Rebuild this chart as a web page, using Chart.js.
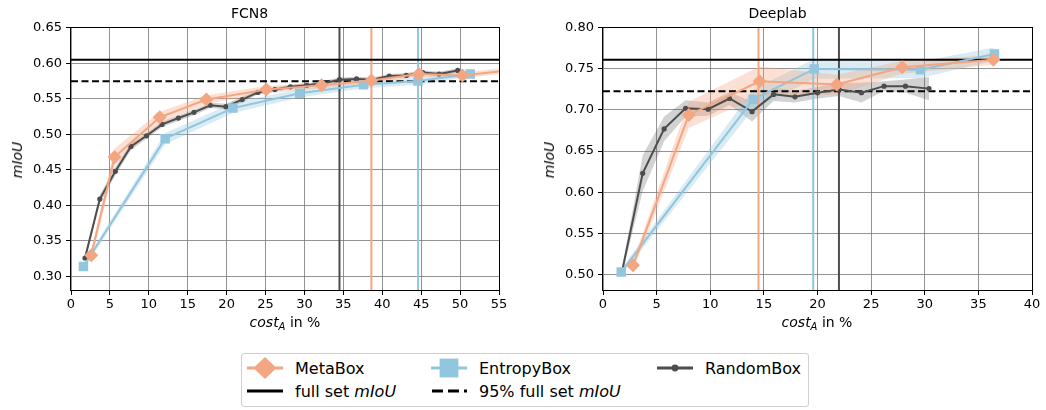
<!DOCTYPE html>
<html lang="en">
<head>
    <meta charset="UTF-8">
    <title>mIoU vs. annotation cost</title>
    <script src="https://cdn.jsdelivr.net/npm/chart.js"></script>
    <style>
        body {
            margin: 0;
            width: 1046px;
            height: 410px;
            position: relative;
            overflow: hidden;
            background: #fff;
            color: #000;
            font-family: "DejaVu Sans", sans-serif;
        }
        .panel { position: absolute; top: 0; height: 340px; }
        #panelFcn { left: 0; width: 520px; }
        #panelDl { left: 523px; width: 523px; }
        .ylabel {
            position: absolute;
            font-size: 14px;
            font-style: italic;
            white-space: nowrap;
            transform: translate(-50%, -50%) rotate(-90deg);
        }
        .xlabel {
            position: absolute;
            font-size: 14px;
            white-space: nowrap;
            transform: translate(-50%, -50%);
        }
        .xlabel sub { font-size: 10px; font-style: italic; vertical-align: -3px; }
        .legend {
            position: absolute;
            left: 241px;
            top: 353px;
            width: 566px;
            height: 52px;
            border: 1px solid #d0d0d0;
            border-radius: 3px;
        }
        .item {
            position: absolute;
            display: flex;
            align-items: center;
            height: 24px;
            font-size: 16px;
            white-space: nowrap;
        }
        .item svg { margin-right: 12px; }
    </style>
</head>
<body>
    <div class="panel" id="panelFcn"><canvas id="fcnChart"></canvas></div>
    <div class="panel" id="panelDl"><canvas id="dlChart"></canvas></div>

    <div class="ylabel" style="left:17px; top:160px;">mIoU</div>
    <div class="ylabel" style="left:549px; top:160px;">mIoU</div>
    <div class="xlabel" style="left:285px; top:323px;"><i>cost</i><sub>A</sub> in %</div>
    <div class="xlabel" style="left:817px; top:323px;"><i>cost</i><sub>A</sub> in %</div>

    <div class="legend">
        <div class="item" style="left:5px; top:2px;">
            <svg width="36" height="24"><line x1="0" y1="12" x2="36" y2="12" stroke="#f4a582" stroke-width="3"/><polygon points="18,1 29.5,12 18,23 6.5,12" fill="#f4a582"/></svg>MetaBox
        </div>
        <div class="item" style="left:5px; top:25px;">
            <svg width="36" height="24"><line x1="0" y1="12" x2="36" y2="12" stroke="#000" stroke-width="3"/></svg>full set&nbsp;<i>mIoU</i>
        </div>
        <div class="item" style="left:189px; top:2px;">
            <svg width="36" height="24"><line x1="0" y1="12" x2="36" y2="12" stroke="#92c5de" stroke-width="3"/><rect x="8.6" y="2.6" width="18.8" height="18.8" fill="#92c5de"/></svg>EntropyBox
        </div>
        <div class="item" style="left:189px; top:25px;">
            <svg width="36" height="24"><line x1="1" y1="12" x2="36" y2="12" stroke="#000" stroke-width="3" stroke-dasharray="11 5"/></svg>95% full set&nbsp;<i>mIoU</i>
        </div>
        <div class="item" style="left:415px; top:2px;">
            <svg width="36" height="24"><line x1="0" y1="12" x2="36" y2="12" stroke="#4d4d4d" stroke-width="3"/><circle cx="18" cy="12" r="3.4" fill="#4d4d4d"/></svg>RandomBox
        </div>
    </div>

    <script>
        const META = '#f4a582';
        const ENTROPY = '#92c5de';
        const RANDOM = '#4d4d4d';
        const META_BAND = 'rgba(244, 165, 130, 0.35)';
        const ENTROPY_BAND = 'rgba(146, 197, 222, 0.35)';
        const RANDOM_BAND = 'rgba(77, 77, 77, 0.25)';

        // ---- FCN8 ----
        const fcnXTicks = [0, 5, 10, 15, 20, 25, 30, 35, 40, 45, 50, 55];
        const fcnYTicks = [0.30, 0.35, 0.40, 0.45, 0.50, 0.55, 0.60, 0.65];

        const fcnMetaX = [2.6, 5.6, 11.4, 17.4, 25.1, 32.2, 38.6, 44.7, 50.3, 57.0];
        const fcnMetaY = [0.330, 0.468, 0.524, 0.549, 0.563, 0.569, 0.576, 0.585, 0.583, 0.591];
        const fcnMetaStd = [0.008, 0.012, 0.008, 0.006, 0.005, 0.004, 0.004, 0.004, 0.004, 0.004];

        const fcnEntropyX = [1.6, 12.1, 20.8, 29.4, 37.6, 44.6, 51.3];
        const fcnEntropyY = [0.314, 0.494, 0.537, 0.558, 0.570, 0.575, 0.585];
        const fcnEntropyStd = [0.004, 0.008, 0.007, 0.006, 0.005, 0.005, 0.004];

        const fcnRandomX = [1.8, 3.7, 5.7, 7.7, 9.7, 11.7, 13.8, 15.8, 17.9, 19.9, 22.0, 24.0,
                            26.2, 28.2, 30.3, 32.4, 34.5, 36.7, 38.7, 40.9, 43.1, 45.2, 47.3, 49.7];
        const fcnRandomY = [0.326, 0.409, 0.448, 0.483, 0.498, 0.514, 0.523, 0.531, 0.541, 0.539, 0.549, 0.559,
                            0.563, 0.567, 0.569, 0.572, 0.577, 0.578, 0.577, 0.582, 0.583, 0.587, 0.585, 0.590];
        const fcnRandomStd = [0.005, 0.006, 0.006, 0.005, 0.004, 0.004, 0.004, 0.004, 0.004, 0.004, 0.004, 0.003,
                              0.003, 0.003, 0.003, 0.003, 0.003, 0.003, 0.003, 0.003, 0.003, 0.003, 0.003, 0.003];

        const fcnFullSet = 0.605;
        const fcnBudgets = [38.6, 44.6, 34.5];   // MetaBox, EntropyBox, RandomBox

        // ---- Deeplab ----
        const dlXTicks = [0, 5, 10, 15, 20, 25, 30, 35, 40];
        const dlYTicks = [0.50, 0.55, 0.60, 0.65, 0.70, 0.75, 0.80];

        const dlMetaX = [2.8, 8.0, 14.6, 21.8, 27.9, 36.4];
        const dlMetaY = [0.511, 0.694, 0.735, 0.731, 0.752, 0.761];
        const dlMetaStd = [0.006, 0.016, 0.018, 0.012, 0.008, 0.006];

        const dlEntropyX = [1.7, 14.0, 19.7, 29.6, 36.5];
        const dlEntropyY = [0.503, 0.713, 0.750, 0.749, 0.768];
        const dlEntropyStd = [0.004, 0.012, 0.012, 0.010, 0.008];

        const dlRandomX = [1.8, 3.7, 5.7, 7.7, 9.8, 11.8, 13.9, 15.9, 17.9, 20.0, 22.0, 24.1, 26.2, 28.2, 30.4];
        const dlRandomY = [0.505, 0.623, 0.677, 0.702, 0.701, 0.714, 0.698, 0.719, 0.716, 0.721, 0.725, 0.721, 0.729, 0.729, 0.726];
        const dlRandomStd = [0.004, 0.022, 0.015, 0.010, 0.008, 0.008, 0.012, 0.008, 0.007, 0.007, 0.008, 0.012, 0.006, 0.008, 0.014];

        const dlFullSet = 0.761;
        const dlBudgets = [14.5, 19.6, 22.0];   // MetaBox, EntropyBox, RandomBox

        // black box around the plot area
        const frame = {
            id: 'frame',
            afterDraw(chart) {
                const { ctx, chartArea: a } = chart;
                ctx.save();
                ctx.strokeStyle = '#000';
                ctx.lineWidth = 1;
                ctx.strokeRect(Math.round(a.left) - 0.5, Math.round(a.top) - 0.5,
                    Math.round(a.right - a.left) + 1, Math.round(a.bottom - a.top) + 1);
                ctx.restore();
            }
        };

        function series(xs, ys, std, color, band, style, radius, order) {
            return [
                {
                    data: xs.map((x, i) => ({ x, y: ys[i] })),
                    showLine: true, borderColor: color, backgroundColor: color, borderWidth: 2,
                    pointStyle: style, pointRadius: radius, pointBorderWidth: 0, order
                },
                {
                    data: xs.map((x, i) => ({ x, y: ys[i] + std[i] })),
                    showLine: true, borderColor: 'transparent', borderWidth: 0, pointRadius: 0,
                    fill: '+1', backgroundColor: band, order: 20
                },
                {
                    data: xs.map((x, i) => ({ x, y: ys[i] - std[i] })),
                    showLine: true, borderColor: 'transparent', borderWidth: 0, pointRadius: 0,
                    fill: false, order: 20
                }
            ];
        }

        function refLine(p0, p1, color, dash) {
            return {
                data: [p0, p1], showLine: true, borderColor: color, borderWidth: 2,
                borderDash: dash || [], pointRadius: 0, order: 10
            };
        }

        function makeChart(id, title, xTicks, yTicks, yMin, full, budgets, sets, axisWidth, padRight) {
            const xMin = xTicks[0], xMax = xTicks[xTicks.length - 1], yMax = yTicks[yTicks.length - 1];
            const budgetColors = [META, ENTROPY, RANDOM];
            const lines = [
                refLine({ x: xMin, y: full }, { x: xMax, y: full }, '#000'),
                refLine({ x: xMin, y: full * 0.95 }, { x: xMax, y: full * 0.95 }, '#000', [7, 3.5]),
                ...budgets.map((b, i) => refLine({ x: b, y: yMin }, { x: b, y: yMax }, budgetColors[i]))
            ];
            const tickFont = { family: 'DejaVu Sans', size: 13 };
            const grid = { color: 'rgba(120,120,120,0.8)', lineWidth: 1, tickLength: 5, tickColor: '#000' };

            return new Chart(document.getElementById(id), {
                type: 'scatter',
                data: { datasets: [...sets, ...lines] },
                options: {
                    responsive: true,
                    maintainAspectRatio: false,
                    animation: false,
                    layout: { padding: { left: 0, right: padRight, top: 0, bottom: 0 } },
                    plugins: {
                        legend: { display: false },
                        tooltip: { enabled: false },
                        title: {
                            display: true, text: title, color: '#000',
                            font: { family: 'DejaVu Sans', size: 14, weight: 'normal' },
                            padding: { top: 6, bottom: 5 }
                        }
                    },
                    scales: {
                        x: {
                            type: 'linear', min: xMin, max: xMax,
                            grid,
                            border: { display: false },
                            afterBuildTicks: (axis) => { axis.ticks = xTicks.map(v => ({ value: v })); },
                            afterFit: (axis) => { axis.height = 50; },
                            ticks: { font: tickFont, color: '#000', padding: 2, maxRotation: 0, callback: v => String(v) }
                        },
                        y: {
                            type: 'linear', min: yMin, max: yMax,
                            grid,
                            border: { display: false },
                            afterBuildTicks: (axis) => { axis.ticks = yTicks.map(v => ({ value: v })); },
                            afterFit: (axis) => { axis.width = axisWidth; },
                            ticks: { font: tickFont, color: '#000', padding: 4, callback: v => v.toFixed(2) }
                        }
                    }
                },
                plugins: [frame]
            });
        }

        makeChart('fcnChart', 'FCN8', fcnXTicks, fcnYTicks, 0.281, fcnFullSet, fcnBudgets, [
            ...series(fcnMetaX, fcnMetaY, fcnMetaStd, META, META_BAND, 'rectRot', 7, 1),
            ...series(fcnEntropyX, fcnEntropyY, fcnEntropyStd, ENTROPY, ENTROPY_BAND, 'rect', 6.7, 2),
            ...series(fcnRandomX, fcnRandomY, fcnRandomStd, RANDOM, RANDOM_BAND, 'circle', 2.6, 3)
        ], 71, 21);

        makeChart('dlChart', 'Deeplab', dlXTicks, dlYTicks, 0.481, dlFullSet, dlBudgets, [
            ...series(dlMetaX, dlMetaY, dlMetaStd, META, META_BAND, 'rectRot', 7, 1),
            ...series(dlEntropyX, dlEntropyY, dlEntropyStd, ENTROPY, ENTROPY_BAND, 'rect', 6.7, 2),
            ...series(dlRandomX, dlRandomY, dlRandomStd, RANDOM, RANDOM_BAND, 'circle', 2.6, 3)
        ], 80, 14);
    </script>
</body>
</html>
